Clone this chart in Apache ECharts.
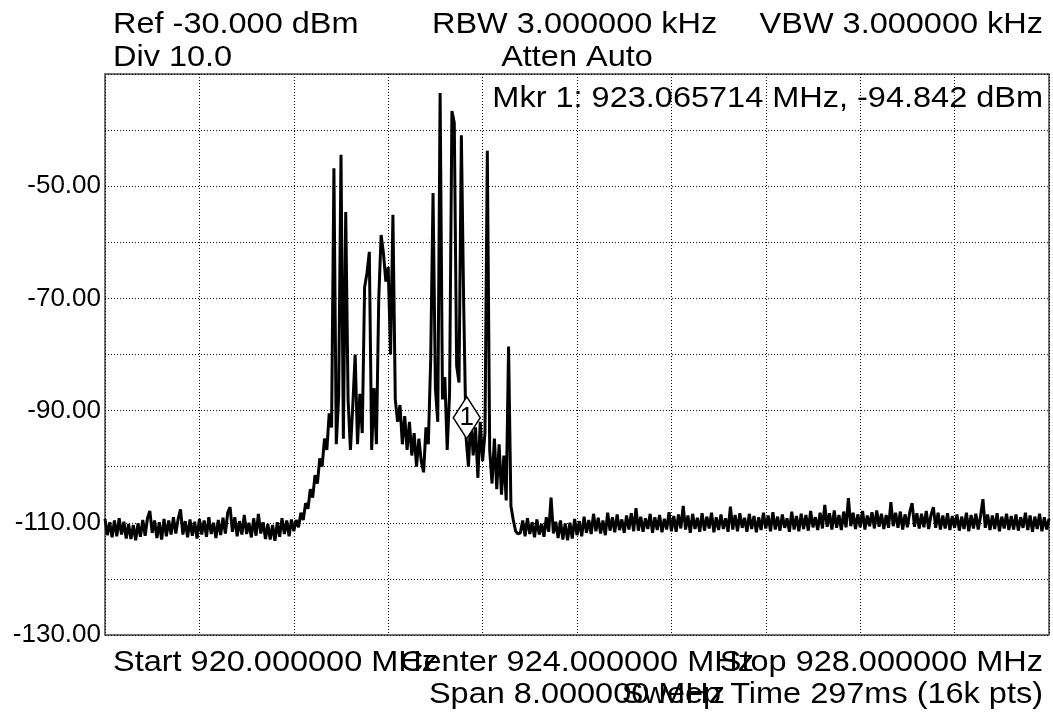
<!DOCTYPE html>
<html>
<head>
<meta charset="utf-8">
<title>Spectrum</title>
<script src="https://cdn.jsdelivr.net/npm/echarts@6/dist/echarts.min.js"></script>
<style>
  html, body { margin: 0; padding: 0; background: #fff; }
  #main { width: 1053px; height: 717px; }
</style>
</head>
<body>
<div id="main"></div>
<script>
// sweep settings
var sweepStart = 920;
var sweepStop = 928;
var refLevel = -30;
var bottomLevel = -130;

// trace levels (dBm), evenly spaced over the sweep
var floorLow = [
  -109.3, -112.2, -109.9, -112.6, -109.6, -112.4, -109.2, -112.1, -109.8, -112.8,
  -110.2, -112.9, -110.4, -113.1, -110.1, -112.5, -109.5, -112.3, -109.2, -107.9,
  -111.8, -109.6, -112.7, -109.9, -113.0, -109.3, -112.4, -109.6, -112.1, -109.0,
  -111.9, -109.3, -107.6, -112.1, -109.7, -112.6, -109.4, -112.3, -109.8, -112.8,
  -109.3, -112.1, -109.6, -112.5, -109.0, -112.0, -110.0, -112.7, -109.5, -112.2,
  -109.1, -111.9, -108.2, -107.2, -111.6, -109.0, -112.4, -109.7, -112.1, -108.6,
  -112.0, -110.0, -112.6, -109.2, -112.3, -108.4, -111.9, -109.9, -112.9, -110.2,
  -113.0, -110.4, -113.2, -109.9, -112.5, -109.2, -112.0, -109.6, -112.4, -109.4
];
var signalBand = [
  -111.5, -109.5, -110.8, -108.2, -109.5, -106.5, -107.5, -104.0, -105.5, -101.5,
  -103.0, -98.5, -100.0, -95.0, -97.0, -90.5, -93.0, -46.8, -96.0, -87.5,
  -44.4, -95.0, -54.6, -88.0, -97.0, -89.0, -80.0, -96.0, -87.0, -94.0,
  -68.0, -65.5, -61.7, -97.0, -86.0, -96.0, -70.0, -58.7, -62.0, -67.0,
  -64.4, -80.0, -55.1, -88.0, -92.0, -89.0, -96.0, -91.0, -97.0, -92.0,
  -98.0, -94.0, -100.0, -95.0, -99.0, -101.0, -93.0, -96.0, -81.0, -51.2,
  -86.0, -92.0, -33.4, -88.0, -84.0, -97.0, -87.0, -36.6, -38.7, -82.0,
  -85.0, -40.9, -71.5, -94.8, -100.0, -91.0, -98.0, -93.0, -102.0, -92.0,
  -99.0, -94.0, -43.7, -97.0, -103.0, -95.0, -104.0, -96.0, -105.0, -98.0,
  -106.0, -78.6, -107.0, -109.5, -111.5, -112.0
];
var floorHigh = [
  -111.8, -109.6, -112.4, -109.2, -112.0, -109.9, -112.6, -109.4, -112.1, -110.2,
  -112.5, -109.0, -111.6, -105.5, -111.9, -109.8, -112.7, -109.6, -113.0, -110.1,
  -113.1, -110.0, -112.8, -109.3, -112.2, -109.7, -112.4, -108.9, -111.8, -109.5,
  -112.0, -108.4, -111.5, -109.1, -111.9, -109.6, -112.2, -108.2, -111.4, -109.0,
  -111.7, -108.5, -111.3, -109.4, -111.8, -108.7, -111.2, -108.3, -111.5, -107.4,
  -111.4, -108.9, -111.6, -109.2, -111.1, -108.4, -111.8, -109.0, -111.3, -108.6,
  -111.7, -109.3, -111.2, -108.1, -111.5, -108.8, -111.6, -108.5, -111.0, -107.0,
  -111.2, -108.7, -111.8, -108.4, -111.1, -109.1, -111.6, -108.3, -111.4, -108.9,
  -111.0, -108.2, -111.7, -109.0, -111.3, -108.5, -111.1, -109.2, -111.6, -107.1,
  -111.2, -108.6, -111.5, -108.3, -110.9, -109.1, -111.6, -108.4, -111.1, -108.8,
  -111.7, -109.0, -111.3, -108.2, -111.0, -108.7, -111.5, -108.1, -111.2, -108.9,
  -111.4, -108.5, -110.9, -109.2, -111.6, -108.0, -111.2, -108.8, -111.5, -108.4,
  -111.1, -108.6, -111.4, -107.9, -110.8, -109.0, -111.3, -108.2, -111.0, -106.8,
  -110.7, -108.3, -111.2, -107.8, -110.9, -108.6, -111.3, -108.0, -110.8, -105.6,
  -110.6, -108.2, -111.1, -108.5, -110.8, -107.9, -111.2, -108.7, -110.6, -108.1,
  -111.0, -107.8, -110.7, -108.4, -111.1, -108.6, -110.9, -106.3, -110.6, -108.2,
  -110.9, -108.0, -111.2, -108.5, -110.8, -108.1, -106.5, -110.7, -108.3, -111.0,
  -108.4, -110.8, -107.9, -111.1, -108.6, -107.2, -110.9, -108.2, -111.2, -108.7,
  -111.0, -108.3, -111.3, -108.8, -110.9, -108.5, -111.4, -108.9, -111.1, -108.2,
  -111.5, -108.6, -111.0, -108.4, -111.2, -108.8, -105.8, -110.9, -108.5, -111.3,
  -108.7, -111.1, -108.3, -111.5, -108.9, -111.0, -108.4, -111.3, -108.8, -111.2,
  -108.5, -111.4, -109.0, -110.9, -108.2, -111.3, -108.7, -111.6, -108.9, -111.1,
  -108.4, -111.5, -109.0, -111.2, -109.3
];

// marker 1
var markerFreq = 923.065714;
var markerLevel = -94.842;

var headerLines = ['Ref -30.000 dBm', 'RBW 3.000000 kHz', 'VBW 3.000000 kHz', 'Div 10.0', 'Atten Auto'];
var markerText = 'Mkr 1: 923.065714 MHz, -94.842 dBm';
var footerLines = ['Start 920.000000 MHz', 'Center 924.000000 MHz', 'Stop 928.000000 MHz',
                   'Span 8.000000 MHz', 'Sweep Time 297ms (16k pts)'];

function showSpectrum() {
    var dom = document.getElementById('main');
    var chart = echarts.init(dom);

    var levels = floorLow.concat(signalBand, floorHigh);
    var step = (sweepStop - sweepStart) / (levels.length - 1);
    var trace = levels.map(function (v, i) {
        return [sweepStart + i * step, v];
    });

    var font = '"Liberation Sans", Arial, sans-serif';
    // the analyzer font is a bit wider than Arial, so stretch it
    function txt(s, x, y, align) {
        return {
            type: 'text', x: x, y: y, scaleX: 1.12, silent: true,
            style: {
                text: s, fill: '#000', fontSize: 29, fontFamily: font,
                textAlign: align || 'left', textVerticalAlign: 'middle'
            }
        };
    }

    var option = {
        backgroundColor: '#fff',
        animation: false,
        grid: {
            left: 105, right: 4, top: 74, bottom: 82,
            show: true, borderColor: '#444', borderWidth: 1.5,
            backgroundColor: 'transparent'
        },
        xAxis: {
            type: 'value',
            min: sweepStart, max: sweepStop, interval: 0.8,
            axisLine: { show: false },
            axisTick: { show: false },
            axisLabel: { show: false },
            splitLine: { show: true, lineStyle: { color: '#000', type: [1, 2], width: 1 } }
        },
        yAxis: {
            type: 'value',
            min: bottomLevel, max: refLevel, interval: 10,
            axisLine: { show: false },
            axisTick: { show: false },
            axisLabel: {
                color: '#000', fontSize: 26, fontFamily: font, margin: 4,
                formatter: function (v) {
                    if (v === refLevel || (v - bottomLevel) % 20 !== 0) return '';
                    return v.toFixed(2);
                }
            },
            splitLine: { show: true, lineStyle: { color: '#000', type: [1, 2], width: 1 } }
        },
        graphic: [
            txt(headerLines[0], 113, 25),
            txt(headerLines[1], 432, 25),
            txt(headerLines[2], 1043, 25, 'right'),
            txt(headerLines[3], 113, 58),
            txt(headerLines[4], 577, 58, 'center'),
            txt(markerText, 1043, 99, 'right'),
            txt(footerLines[0], 113, 663),
            txt(footerLines[1], 577, 663, 'center'),
            txt(footerLines[2], 1043, 663, 'right'),
            txt(footerLines[3], 577, 695, 'center'),
            txt(footerLines[4], 1043, 695, 'right')
        ],
        series: [{
            type: 'line',
            data: trace,
            showSymbol: false,
            sampling: null,
            lineStyle: { color: '#000', width: 3 },
            z: 3,
            markPoint: {
                silent: true,
                symbol: 'diamond',
                symbolSize: [27, 42],
                symbolOffset: [0, -20],
                itemStyle: { color: '#fff', borderColor: '#000', borderWidth: 1.5 },
                label: {
                    show: true, formatter: '1', color: '#000',
                    fontSize: 26, fontFamily: font
                },
                data: [{ coord: [markerFreq, markerLevel] }]
            }
        }]
    };

    if (option && typeof option === 'object') {
        chart.setOption(option, true);
    }

    window.addEventListener('resize', function () {
        chart.resize();
    });
}

showSpectrum();
</script>
</body>
</html>
